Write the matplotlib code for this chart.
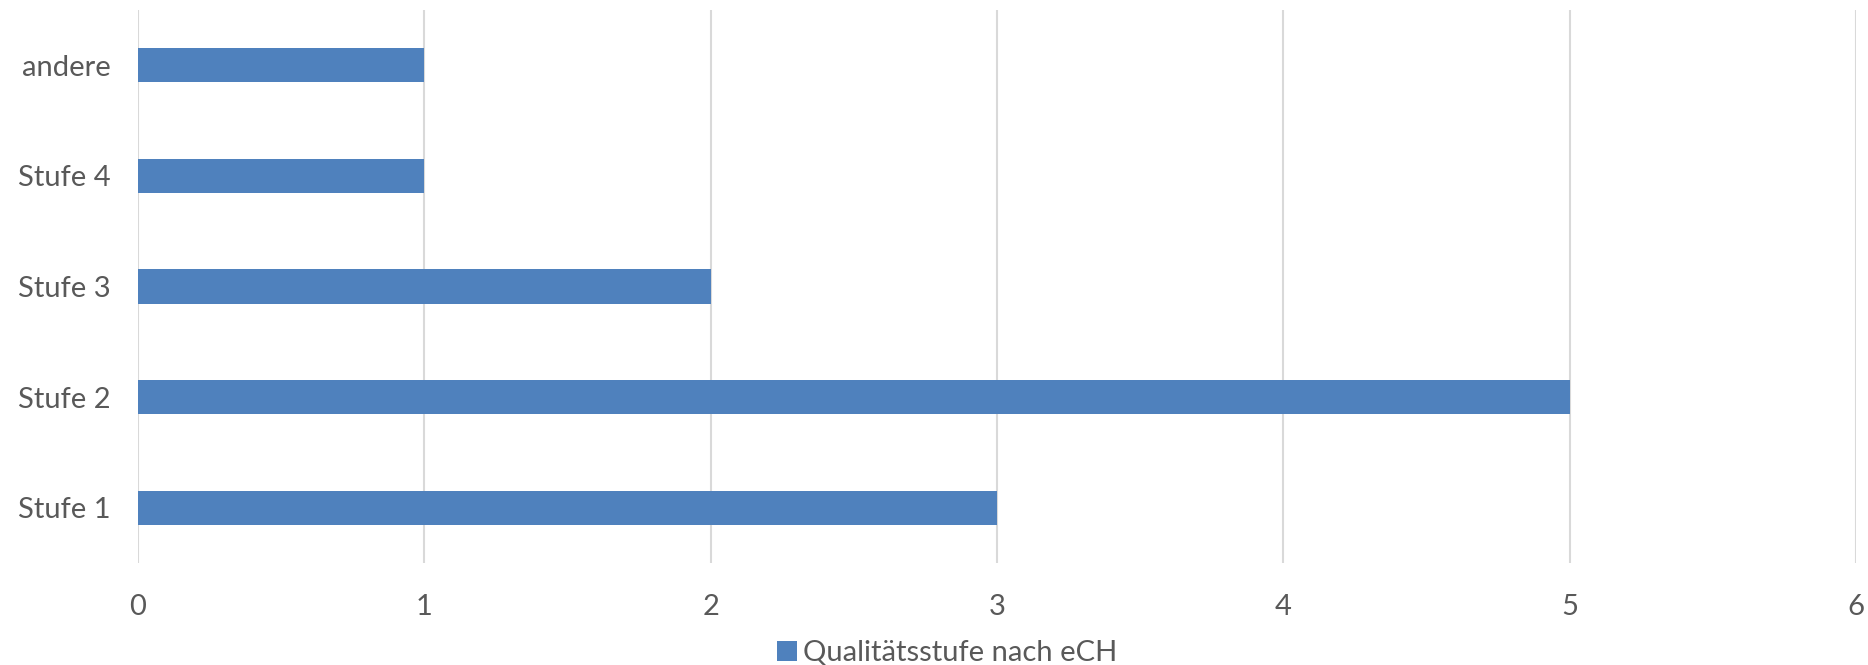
import matplotlib.pyplot as plt

# Daten
categories = ['Stufe 1', 'Stufe 2', 'Stufe 3', 'Stufe 4', 'andere']
values = [3, 5, 2, 1, 1]
series_name = 'Qualitätsstufe nach eCH'
x_ticks = [0, 1, 2, 3, 4, 5, 6]

bar_color = '#4F81BD'
text_color = '#595959'
grid_color = '#D9D9D9'

plt.rcParams['font.family'] = ['Lato', 'DejaVu Sans']

fig = plt.figure(figsize=(18.68, 6.65), dpi=100)
ax = fig.add_axes([0.0739, 0.1534, 0.9197, 0.8316])

ax.barh(categories, values, height=0.31, color=bar_color, label=series_name, zorder=3)

ax.set_xlim(0, 6)
ax.set_ylim(-0.5, len(categories) - 0.5)
ax.set_xticks(x_ticks)
ax.xaxis.grid(True, color=grid_color, linewidth=1.5, zorder=0)
ax.yaxis.grid(False)

for s in ax.spines.values():
    s.set_visible(False)

ax.tick_params(axis='both', length=0, labelsize=21, labelcolor=text_color)
ax.tick_params(axis='x', pad=22)
ax.tick_params(axis='y', pad=20)

fig.legend(loc='center', bbox_to_anchor=(0.507, 1 - 653 / 665), frameon=False,
           fontsize=21, labelcolor=text_color, handlelength=0.7, handleheight=0.7,
           handletextpad=0.2)

fig.savefig('out.png', dpi=100)
